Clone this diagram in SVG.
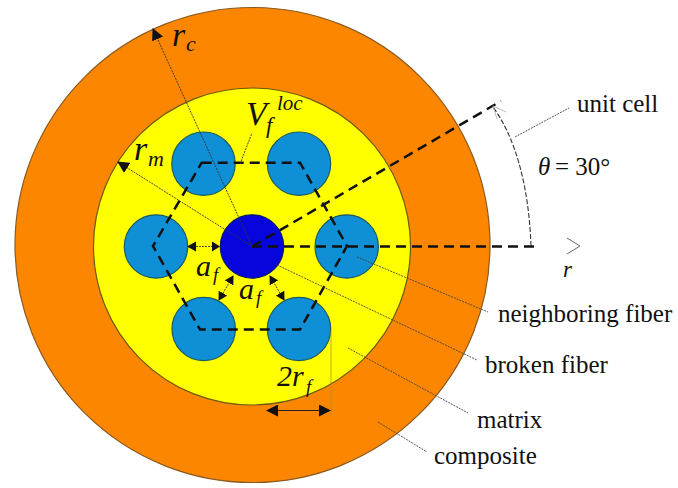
<svg xmlns="http://www.w3.org/2000/svg" width="678" height="488" viewBox="0 0 678 488">
<style>
.lbl{font-family:"Liberation Serif","Times New Roman",serif;fill:#111}
.it{font-style:italic}
.name{font-size:25px}
.fib{fill:#0f8fd6;stroke:#1c5a60;stroke-width:1.2}
.dash{fill:none;stroke:#111;stroke-width:2.5;stroke-dasharray:10 6}
.thin{fill:none;stroke:#333;stroke-width:.9;stroke-dasharray:2 1}
.lead{fill:none;stroke:#444;stroke-width:.9;stroke-dasharray:2 1}
</style>
<defs>
<marker id="ah" markerUnits="userSpaceOnUse" markerWidth="14" markerHeight="12" refX="11" refY="6" orient="auto-start-reverse"><path d="M0 0L12 6L0 12Z" fill="#111"/></marker>
<marker id="ahs" markerUnits="userSpaceOnUse" markerWidth="10" markerHeight="10" refX="8" refY="5" orient="auto-start-reverse"><path d="M0 0L9 5L0 10Z" fill="#111"/></marker>
</defs>
<rect width="678" height="488" fill="#fff"/>
<g id="composite"><circle cx="252.500" cy="245" r="237.500" fill="#fd8600" stroke="#8a5a20" stroke-width="1.200"/></g>
<g id="matrix"><circle cx="252" cy="246.500" r="158.500" fill="#ffff00" stroke="#6b5a10" stroke-width="1.200"/></g>
<g id="neighbor-upper-left"><circle class="fib" cx="203.500" cy="163.700" r="31.700"/></g>
<g id="neighbor-upper-right"><circle class="fib" cx="299" cy="163.700" r="31.700"/></g>
<g id="neighbor-left"><circle class="fib" cx="156" cy="246.500" r="31.700"/></g>
<g id="neighbor-right"><circle class="fib" cx="346.700" cy="246.500" r="31.700"/></g>
<g id="neighbor-lower-left"><circle class="fib" cx="203.700" cy="329" r="31.700"/></g>
<g id="neighbor-lower-right"><circle class="fib" cx="299" cy="329" r="31.700"/></g>
<g id="broken-fiber"><circle cx="252" cy="246.500" r="31.700" fill="#0505dc" stroke="#0a1a70" stroke-width="1.200"/></g>
<g id="connectors">
<path class="dash" d="M201.700 162.700H300L347 246L300 329.500H200L153 246Z"/>
<path class="dash" d="M252 246.500H539"/>
<path class="dash" d="M252 246.500L501 101"/>
<path class="thin" d="M252 246.500L153 29" marker-end="url(#ah)"/>
<path class="thin" d="M252 246.500L118 162" marker-end="url(#ah)"/>
<path class="thin" d="M240 164L252 133"/>
<path class="thin" d="M196 246.500H212" stroke-dasharray="5 4"/>
<path d="M187 246.500L196 241.500V251.500Z M220 246.500L212 241.500V251.500Z" fill="#111"/>
<path class="thin" d="M233 276L219 300" marker-start="url(#ahs)" marker-end="url(#ahs)"/>
<path class="thin" d="M270 276L284 300" marker-start="url(#ahs)" marker-end="url(#ahs)"/>
<path d="M331 331V416" fill="none" stroke="#a88a30" stroke-width=".7"/>
<path d="M267 410.500H330" fill="none" stroke="#222" stroke-width="1.100" marker-start="url(#ah)" marker-end="url(#ah)"/>
<path d="M531 246C529 190 517 140 493 107" fill="none" stroke="#333" stroke-width="1.100" stroke-dasharray="5 2"/>
<path d="M506 112L493 106L497 119" fill="none" stroke="#aaa" stroke-width=".8"/>
<path d="M567 238L580 246L567 254" fill="none" stroke="#555" stroke-width=".9"/>
<path class="lead" d="M515 137L569 108"/>
<path class="lead" d="M357 257L488 312"/>
<path class="lead" d="M277 265L477 360"/>
<path class="lead" d="M348 348L468 413"/>
<path class="lead" d="M378 422L427 452"/>
</g>
<g id="labels">
<text class="lbl it" x="172" y="46" font-size="34">r<tspan x="186" y="51" font-size="22">c</tspan></text>
<text class="lbl it" x="134" y="160" font-size="34">r<tspan x="148" y="166" font-size="22">m</tspan></text>
<text class="lbl it" x="246" y="125" font-size="34">V<tspan x="266" y="133" font-size="23">f</tspan><tspan x="277" y="110" font-size="21">loc</tspan></text>
<text class="lbl it" x="196" y="276" font-size="30">a<tspan x="213" y="281" font-size="19">f</tspan></text>
<text class="lbl it" x="239" y="299" font-size="30">a<tspan x="256" y="304" font-size="19">f</tspan></text>
<text class="lbl it" x="277" y="386" font-size="30">2r<tspan x="306" y="393" font-size="19">f</tspan></text>
<text class="lbl name" x="577" y="112">unit cell</text>
<text class="lbl" x="538" y="175" font-size="25"><tspan class="it">θ</tspan><tspan x="555">= 30°</tspan></text>
<text class="lbl it" x="563" y="277" font-size="23">r</text>
<text class="lbl name" x="498" y="322">neighboring fiber</text>
<text class="lbl name" x="485" y="373">broken fiber</text>
<text class="lbl name" x="477" y="428">matrix</text>
<text class="lbl name" x="434" y="464">composite</text>
</g>
</svg>
